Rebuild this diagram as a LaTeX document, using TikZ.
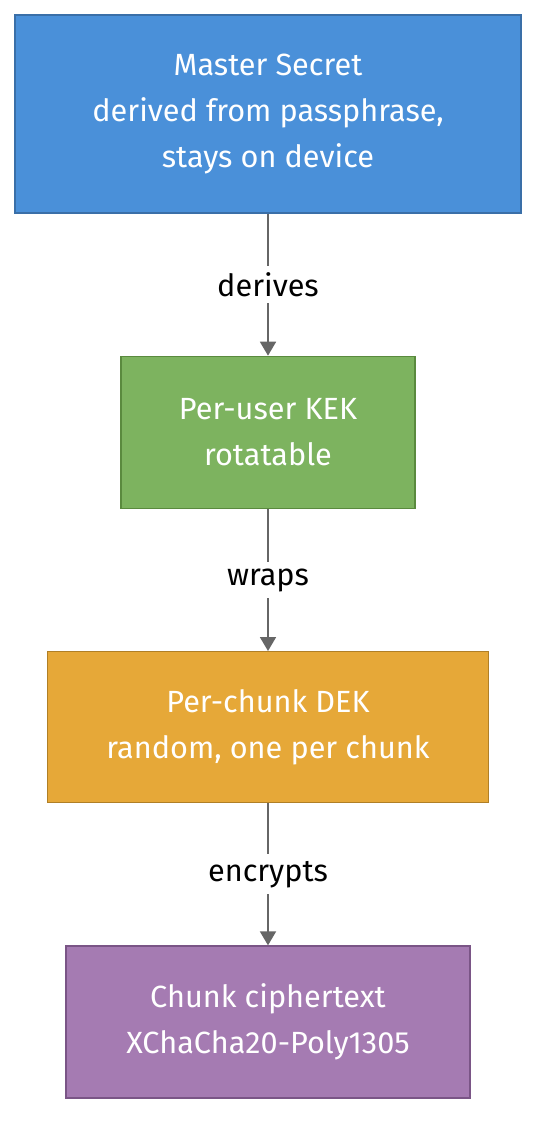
\documentclass[tikz,border=0pt]{standalone}
\usepackage{fontspec}
\setmainfont{Fira Sans}
\usetikzlibrary{positioning, arrows.meta}

\definecolor{keyblue}{HTML}{4A90D9}
\definecolor{keyblueline}{HTML}{3A6FA8}
\definecolor{keygreen}{HTML}{7DB35F}
\definecolor{keygreenline}{HTML}{5A8A3E}
\definecolor{keyorange}{HTML}{E6A838}
\definecolor{keyorangeline}{HTML}{B07F26}
\definecolor{keypurple}{HTML}{A57BB2}
\definecolor{keypurpleline}{HTML}{7A5586}
\definecolor{linkgray}{HTML}{666666}

\begin{document}
\begin{tikzpicture} [x=0.75pt, y=-0.75pt,
            node distance = 106.5pt,
            keybox/.style = {draw, line width=1pt, align=center,
                text=white, inner sep=0pt,
                font=\fontsize{23}{34.5}\selectfont},
            link/.style = {draw=linkgray, line width=1.4pt,
                -{Triangle[length=10.5pt, width=12pt]}},
            linktext/.style = {fill=white, text=black, inner sep=5pt,
                font=\fontsize{23}{26}\selectfont}]

            \useasboundingbox (0,0) rectangle (552,1148);

            % Master secret
            \node (master) [keybox,
                fill=keyblue, draw=keyblueline,
                minimum width=379.5pt, minimum height=148.5pt]
                at (268,114) {Master Secret\\derived from passphrase,\\stays on device};

            % KEK
            \node (kek) [keybox,
                fill=keygreen, draw=keygreenline,
                minimum width=220.5pt, minimum height=114pt,
                below = of master] {Per-user KEK\\rotatable};

            % DEK
            \node (dek) [keybox,
                fill=keyorange, draw=keyorangeline,
                minimum width=330.75pt, minimum height=113.25pt,
                below = of kek] {Per-chunk DEK\\random, one per chunk};

            % Ciphertext
            \node (cipher) [keybox,
                fill=keypurple, draw=keypurpleline,
                minimum width=303pt, minimum height=114pt,
                below = of dek] {Chunk ciphertext\\XChaCha20-Poly1305};

            % Arrows
            \path
                (master) edge [link] node [linktext] {derives}  (kek)
                (kek)    edge [link] node [linktext] {wraps}    (dek)
                (dek)    edge [link] node [linktext] {encrypts} (cipher);
        \end{tikzpicture}
\end{document}
